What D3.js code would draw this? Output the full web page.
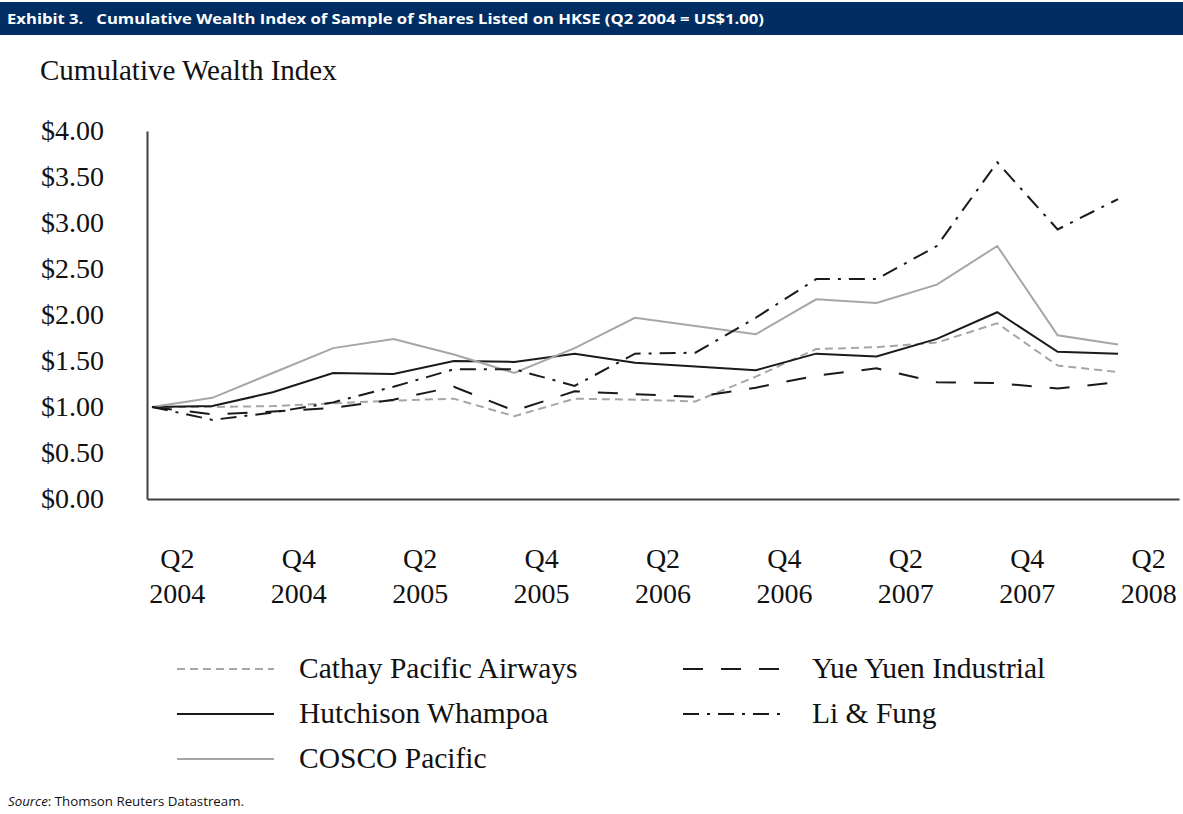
<!DOCTYPE html>
<html>
<head>
<meta charset="utf-8">
<script src="https://cdn.jsdelivr.net/npm/d3@7"></script>
<style>
  body { margin: 0; background: #fff; }
  svg { display: block; }
</style>
</head>
<body>
<svg id="chart" width="1183" height="814"></svg>
<script>
// quarters Q2 2004 .. Q2 2008
const quarters = ["Q2 2004", "Q3 2004", "Q4 2004", "Q1 2005", "Q2 2005", "Q3 2005", "Q4 2005", "Q1 2006",
    "Q2 2006", "Q3 2006", "Q4 2006", "Q1 2007", "Q2 2007", "Q3 2007", "Q4 2007", "Q1 2008", "Q2 2008"];

const cathay = [1.00, 1.00, 1.01, 1.04, 1.07, 1.09, 0.90, 1.09, 1.08, 1.06, 1.33, 1.63, 1.65, 1.70, 1.91, 1.45, 1.38];
const hutchison = [1.00, 1.01, 1.16, 1.37, 1.36, 1.50, 1.49, 1.58, 1.48, 1.44, 1.40, 1.58, 1.55, 1.74, 2.03, 1.60, 1.58];
const cosco = [1.00, 1.10, 1.37, 1.64, 1.74, 1.57, 1.37, 1.64, 1.97, 1.88, 1.79, 2.17, 2.13, 2.33, 2.75, 1.78, 1.68];
const yueYuen = [1.00, 0.92, 0.95, 0.99, 1.08, 1.22, 0.96, 1.17, 1.14, 1.11, 1.21, 1.34, 1.42, 1.27, 1.26, 1.20, 1.27];
const liFung = [1.00, 0.86, 0.94, 1.05, 1.22, 1.41, 1.41, 1.23, 1.58, 1.59, 1.97, 2.39, 2.39, 2.75, 3.66, 2.93, 3.26];

const yTicks = [0, 0.5, 1, 1.5, 2, 2.5, 3, 3.5, 4];

const serif = "'Liberation Serif', 'Times New Roman', serif";
const sans = "'Open Sans', 'Liberation Sans', sans-serif";
const grey = "#a6a6a6";
const black = "#1a1a1a";

const series = [
    { name: "Cathay Pacific Airways", values: cathay, color: grey, dash: "8,5", col: 0, row: 0 },
    { name: "Hutchison Whampoa", values: hutchison, color: black, dash: null, col: 0, row: 1 },
    { name: "COSCO Pacific", values: cosco, color: grey, dash: null, col: 0, row: 2 },
    { name: "Yue Yuen Industrial", values: yueYuen, color: black, dash: "20,18", col: 1, row: 0 },
    { name: "Li & Fung", values: liFung, color: black, dash: "16,8,3,8", col: 1, row: 1 }
];

const svg = d3.select("#chart");

// header bar
svg.append("rect")
    .attr("x", 0).attr("y", 2)
    .attr("width", 1183).attr("height", 33)
    .attr("fill", "#002d62");

svg.append("text")
    .attr("x", 7).attr("y", 24)
    .attr("fill", "white")
    .attr("textLength", 757)
    .attr("lengthAdjust", "spacingAndGlyphs")
    .style("font", `bold 15px ${sans}`)
    .text("Exhibit 3.\u00a0\u00a0\u00a0Cumulative Wealth Index of Sample of Shares Listed on HKSE (Q2 2004 = US$1.00)");

svg.append("text")
    .attr("x", 40).attr("y", 80)
    .attr("fill", "#111")
    .style("font", `29px ${serif}`)
    .text("Cumulative Wealth Index");

// scales
const plotLeft = 147, plotRight = 1179, plotTop = 131, plotBottom = 499;

const xBand = d3.scaleBand()
    .domain(quarters)
    .range([plotLeft, plotRight]);

const x = d3.scalePoint()
    .domain(quarters)
    .range([152, 1118]);

const y = d3.scaleLinear()
    .domain([0, 4])
    .range([plotBottom, plotTop]);

// y axis
const yAxis = svg.append("g")
    .attr("transform", `translate(${plotLeft},0)`)
    .call(d3.axisLeft(y).tickValues(yTicks).tickSize(0).tickPadding(43).tickFormat(d3.format("$.2f")));
yAxis.select(".domain").attr("stroke", "#404040").attr("stroke-width", 2);
yAxis.selectAll("text")
    .attr("fill", "#111")
    .style("font", `28px ${serif}`);

// x axis
const xAxis = svg.append("g")
    .attr("transform", `translate(0,${plotBottom})`)
    .call(d3.axisBottom(xBand).tickValues(quarters.filter((q, i) => i % 2 == 0)).tickSize(0).tickFormat(""));
xAxis.select(".domain").attr("stroke", "#404040").attr("stroke-width", 2);
xAxis.selectAll(".tick text").remove();
xAxis.selectAll(".tick").each(function(q) {
    let parts = q.split(" ");
    let t = d3.select(this).append("text")
        .attr("text-anchor", "middle")
        .attr("fill", "#111")
        .style("font", `28px ${serif}`);
    t.append("tspan").attr("x", 0).attr("y", 69).text(parts[0]);
    t.append("tspan").attr("x", 0).attr("y", 104).text(parts[1]);
});

// lines
const line = d3.line()
    .x((d, i) => x(quarters[i]))
    .y(d => y(d));

svg.append("g")
    .selectAll("path")
    .data(series)
    .join("path")
    .attr("d", d => line(d.values))
    .attr("fill", "none")
    .attr("stroke", d => d.color)
    .attr("stroke-width", 2)
    .attr("stroke-dasharray", d => d.dash)
    .attr("stroke-linejoin", "miter");

// legend
const legend = svg.append("g");
const legendCols = [{ x1: 177, x2: 274, tx: 299 }, { x1: 683, x2: 780, tx: 812 }];
const legendRows = [669, 714, 759];

let items = legend.selectAll("g")
    .data(series)
    .join("g")
    .attr("transform", d => `translate(0,${legendRows[d.row]})`);

items.append("line")
    .attr("x1", d => legendCols[d.col].x1)
    .attr("x2", d => legendCols[d.col].x2)
    .attr("stroke", d => d.color)
    .attr("stroke-width", 2)
    .attr("stroke-dasharray", d => d.dash);

items.append("text")
    .attr("x", d => legendCols[d.col].tx)
    .attr("y", 9)
    .attr("fill", "#111")
    .style("font", `29.5px ${serif}`)
    .text(d => d.name);

// source
let src = svg.append("text")
    .attr("x", 8).attr("y", 806)
    .attr("fill", "#111")
    .style("font", `13.3px ${sans}`);
src.append("tspan").style("font-style", "italic").text("Source");
src.append("tspan").text(": Thomson Reuters Datastream.");
</script>
</body>
</html>
